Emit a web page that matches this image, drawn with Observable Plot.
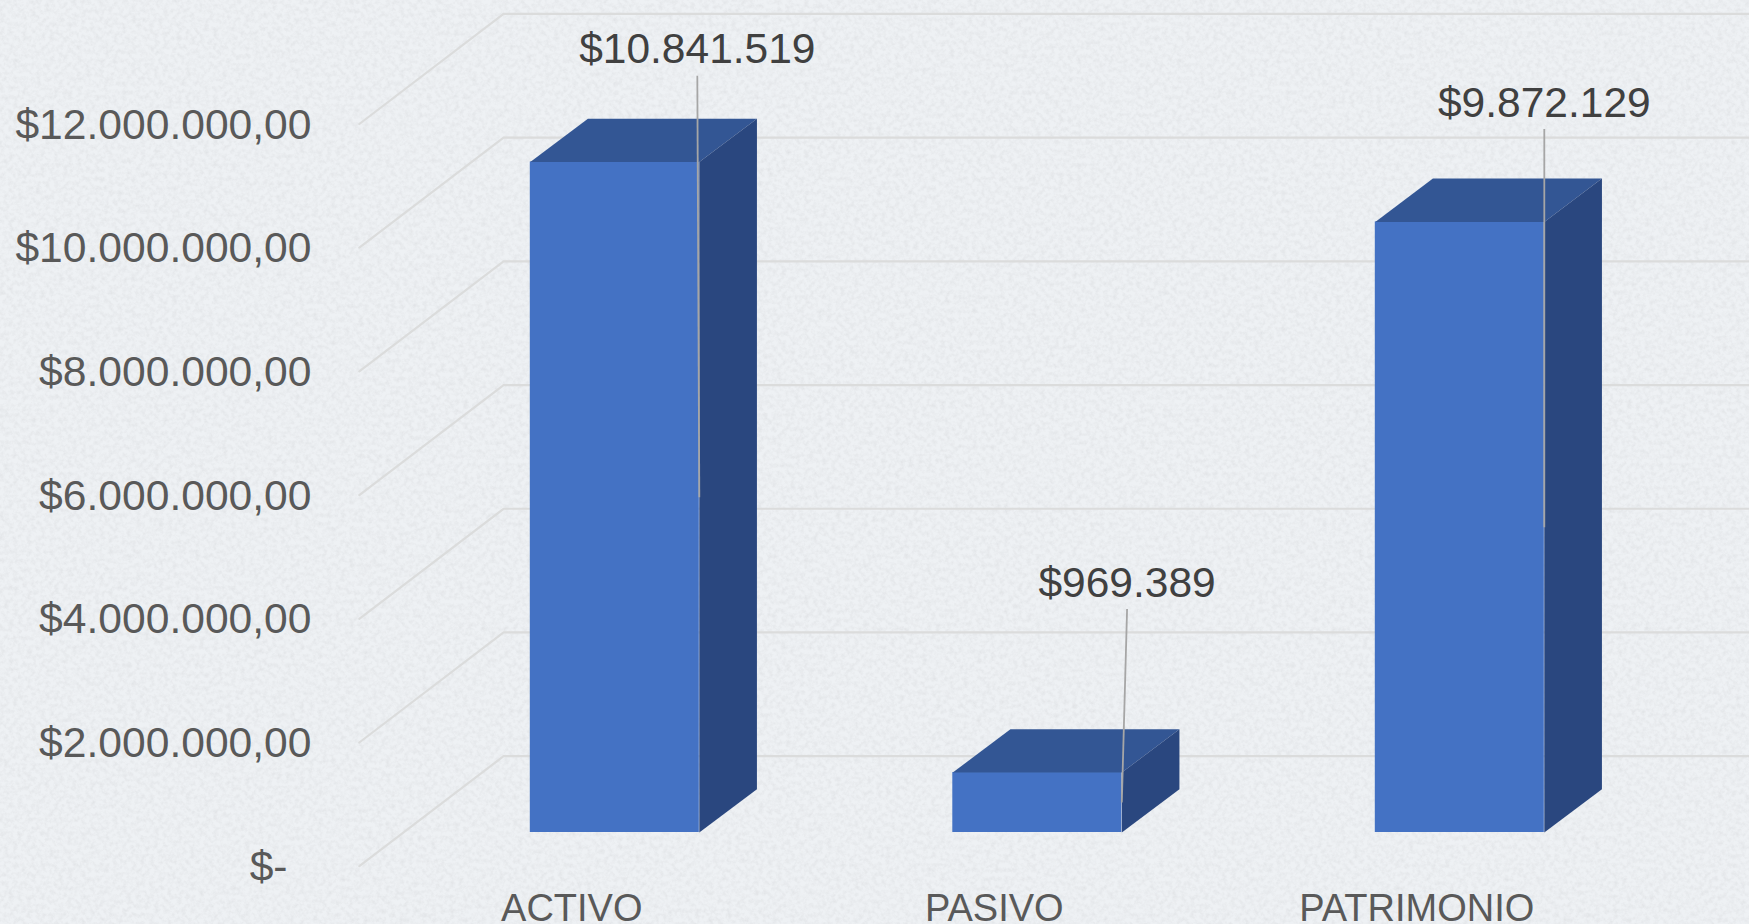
<!DOCTYPE html>
<html lang="es">
<head>
<meta charset="utf-8">
<title>Activo, Pasivo, Patrimonio</title>
<script src="https://cdn.jsdelivr.net/npm/d3@7"></script>
<script src="https://cdn.jsdelivr.net/npm/@observablehq/plot@0.6"></script>
<style>
  html, body { margin: 0; padding: 0; overflow: hidden; width: 1749px; height: 924px; background-color: #eef1f4;
    background-image: url("data:image/svg+xml,%3Csvg xmlns='http://www.w3.org/2000/svg' width='1749' height='924'%3E%3Cfilter id='n' x='0' y='0' width='100%25' height='100%25'%3E%3CfeTurbulence type='fractalNoise' baseFrequency='0.22' numOctaves='4' seed='7'/%3E%3CfeColorMatrix values='0 0 0 0 0.6 0 0 0 0 0.61 0 0 0 0 0.63 1.6 0 0 0 -0.6'/%3E%3C/filter%3E%3Crect width='1749' height='924' filter='url(%23n)' opacity='0.4'/%3E%3C/svg%3E"); }
  svg { display: block; }
</style>
</head>
<body>
<script>
// Data
const categories = ["ACTIVO", "PASIVO", "PATRIMONIO"];
const values = [10841519, 969389, 9872129];
const valueLabels = ["$10.841.519", "$969.389", "$9.872.129"];
const axisTicks = [2000000, 4000000, 6000000, 8000000, 10000000, 12000000];
const axisTickLabels = ["$2.000.000,00", "$4.000.000,00", "$6.000.000,00", "$8.000.000,00", "$10.000.000,00", "$12.000.000,00"];
const zeroTick = [0];
const zeroTickLabel = "$-";

// Layout of the pseudo-3D projection, in scale units
const halfBar = 0.2;
const barDepthX = 0.1364;
const barDepthY = 700000;
const barLift = 545000;
const gridFrontX = -0.6047;
const gridBackX = -0.2632;
const gridBackY = 1779000;
const gridEndX = 2.6852;
const leaderLift = [1940000, 3190000, 2048000];
const leaderShift = [-0.0047, 0.0125, 0];

// Colours
const colorFront = "#4472c4";
const colorTop = "#335694";
const colorSide = "#2a477f";
const colorGrid = "#dbdcdc";
const colorAxisText = "#595959";
const colorLabelText = "#404040";
const colorLeader = "#a6a6a6";

const bars = categories.map((name, i) => ({name, i, value: values[i], label: valueLabels[i]}));

const gridLines = [...zeroTick, ...axisTicks].flatMap((v) => [
  {tick: v, x: gridFrontX, y: v},
  {tick: v, x: gridBackX, y: v + gridBackY},
  {tick: v, x: gridEndX, y: v + gridBackY}
]);

const topFaces = bars.flatMap((b) => {
  const y = b.value + barLift;
  return [
    {bar: b.name, x: b.i - halfBar, y},
    {bar: b.name, x: b.i - halfBar + barDepthX, y: y + barDepthY},
    {bar: b.name, x: b.i + halfBar + barDepthX, y: y + barDepthY},
    {bar: b.name, x: b.i + halfBar, y}
  ];
});

const sideFaces = bars.flatMap((b) => {
  const y = b.value + barLift;
  return [
    {bar: b.name, x: b.i + halfBar, y: barLift},
    {bar: b.name, x: b.i + halfBar + barDepthX, y: barLift + barDepthY},
    {bar: b.name, x: b.i + halfBar + barDepthX, y: y + barDepthY},
    {bar: b.name, x: b.i + halfBar, y}
  ];
});

const leaders = bars.map((b) => ({
  x1: b.i + halfBar,
  y1: barLift + b.value / 2,
  x2: b.i + halfBar + leaderShift[b.i],
  y2: b.value + leaderLift[b.i],
  label: b.label
}));

const fontFamily = "'Liberation Sans', Arial, sans-serif";

const chart = Plot.plot({
  width: 1749,
  height: 924,
  marginTop: 0,
  marginRight: 0,
  marginBottom: 0,
  marginLeft: 314,
  x: {domain: [0, 2], range: [614.3, 1459.3]},
  y: {domain: [0, 12000000], range: [865.7, 123.5]},
  style: {background: "transparent", fontFamily},
  marks: [
    Plot.line(gridLines, {x: "x", y: "y", z: "tick", stroke: colorGrid, strokeWidth: 2.2}),
    Plot.rectY(bars, {x1: (d) => d.i - halfBar, x2: (d) => d.i + halfBar, y1: barLift, y2: (d) => d.value + barLift, fill: colorFront, inset: 0}),
    Plot.line(topFaces, {x: "x", y: "y", z: "bar", fill: colorTop, stroke: "none"}),
    Plot.line(sideFaces, {x: "x", y: "y", z: "bar", fill: colorSide, stroke: "none"}),
    Plot.link(leaders, {x1: "x1", y1: "y1", x2: "x2", y2: "y2", stroke: colorLeader, strokeWidth: 1.8}),
    Plot.text(leaders, {x: "x2", y: "y2", text: "label", dy: -26, fill: colorLabelText, fontSize: 42.5, lineAnchor: "middle"}),
    Plot.axisY({
      anchor: "left", ticks: axisTicks, tickSize: 0, tickPadding: 3, label: null,
      tickFormat: (d) => axisTickLabels[axisTicks.indexOf(d)],
      fill: colorAxisText, fontSize: 42.6, dy: 1
    }),
    Plot.axisY({
      anchor: "left", ticks: zeroTick, tickSize: 0, tickPadding: 3, label: null,
      tickFormat: () => zeroTickLabel,
      fill: colorAxisText, fontSize: 42.6, dx: -24, dy: 1
    }),
    Plot.axisX({
      anchor: "bottom", ticks: [0, 1, 2], tickSize: 0, tickPadding: 0, label: null,
      tickFormat: (d) => categories[d],
      fill: colorAxisText, fontSize: 38, dx: -43, dy: -30
    })
  ]
});
document.body.appendChild(chart);
</script>
</body>
</html>
